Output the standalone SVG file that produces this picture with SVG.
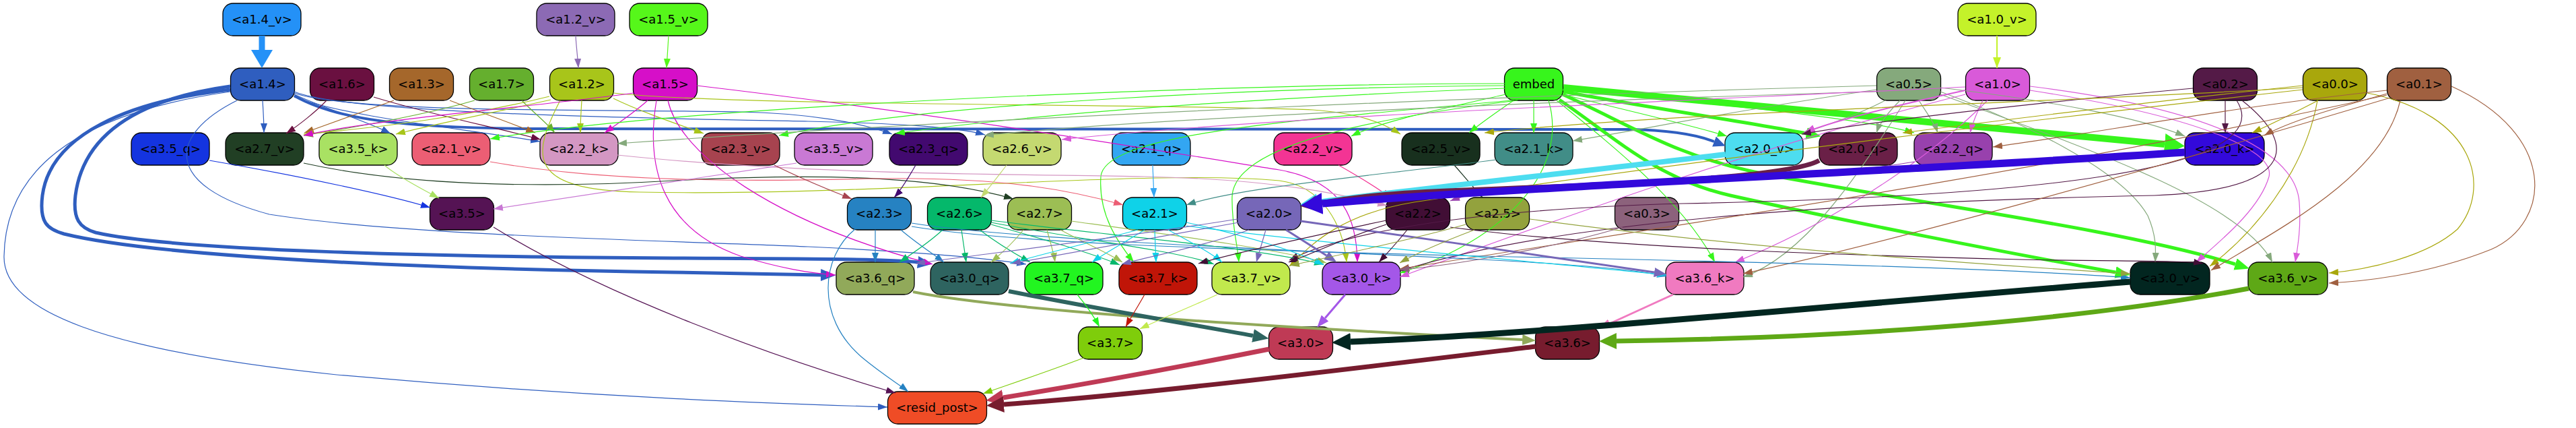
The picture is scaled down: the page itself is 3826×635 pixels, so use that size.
<svg xmlns="http://www.w3.org/2000/svg" width="3826" height="635" viewBox="0 0 3826 635">
<style>
.n rect{stroke:#000;stroke-width:1.3}
.n text{font-family:"DejaVu Sans","Liberation Sans",sans-serif;font-size:18px;text-anchor:middle;fill:#000}
#edges path{fill:none;stroke-width:1.2}
</style>
<defs>
<marker id="t-12v" viewBox="0 0 14 10" refX="14" refY="5" markerWidth="14" markerHeight="10" markerUnits="userSpaceOnUse" orient="auto"><path d="M0,0L14,5L0,10z" fill="#8c6ab4"/></marker>
<marker id="t-15v" viewBox="0 0 14 10" refX="14" refY="5" markerWidth="14" markerHeight="10" markerUnits="userSpaceOnUse" orient="auto"><path d="M0,0L14,5L0,10z" fill="#56f71a"/></marker>
<marker id="t-14" viewBox="0 0 14 10" refX="14" refY="5" markerWidth="14" markerHeight="10" markerUnits="userSpaceOnUse" orient="auto"><path d="M0,0L14,5L0,10z" fill="#2f5ebf"/></marker>
<marker id="t-16" viewBox="0 0 14 10" refX="14" refY="5" markerWidth="14" markerHeight="10" markerUnits="userSpaceOnUse" orient="auto"><path d="M0,0L14,5L0,10z" fill="#6a1040"/></marker>
<marker id="t-13" viewBox="0 0 14 10" refX="14" refY="5" markerWidth="14" markerHeight="10" markerUnits="userSpaceOnUse" orient="auto"><path d="M0,0L14,5L0,10z" fill="#a5672b"/></marker>
<marker id="t-17" viewBox="0 0 14 10" refX="14" refY="5" markerWidth="14" markerHeight="10" markerUnits="userSpaceOnUse" orient="auto"><path d="M0,0L14,5L0,10z" fill="#65af2e"/></marker>
<marker id="t-12" viewBox="0 0 14 10" refX="14" refY="5" markerWidth="14" markerHeight="10" markerUnits="userSpaceOnUse" orient="auto"><path d="M0,0L14,5L0,10z" fill="#a8c51a"/></marker>
<marker id="t-15" viewBox="0 0 14 10" refX="14" refY="5" markerWidth="14" markerHeight="10" markerUnits="userSpaceOnUse" orient="auto"><path d="M0,0L14,5L0,10z" fill="#d60fc8"/></marker>
<marker id="t-emb" viewBox="0 0 14 10" refX="14" refY="5" markerWidth="14" markerHeight="10" markerUnits="userSpaceOnUse" orient="auto"><path d="M0,0L14,5L0,10z" fill="#37f51c"/></marker>
<marker id="t-05" viewBox="0 0 14 10" refX="14" refY="5" markerWidth="14" markerHeight="10" markerUnits="userSpaceOnUse" orient="auto"><path d="M0,0L14,5L0,10z" fill="#85a97c"/></marker>
<marker id="t-10" viewBox="0 0 14 10" refX="14" refY="5" markerWidth="14" markerHeight="10" markerUnits="userSpaceOnUse" orient="auto"><path d="M0,0L14,5L0,10z" fill="#d95ad9"/></marker>
<marker id="t-02" viewBox="0 0 14 10" refX="14" refY="5" markerWidth="14" markerHeight="10" markerUnits="userSpaceOnUse" orient="auto"><path d="M0,0L14,5L0,10z" fill="#541a47"/></marker>
<marker id="t-00" viewBox="0 0 14 10" refX="14" refY="5" markerWidth="14" markerHeight="10" markerUnits="userSpaceOnUse" orient="auto"><path d="M0,0L14,5L0,10z" fill="#a9a70c"/></marker>
<marker id="t-01" viewBox="0 0 14 10" refX="14" refY="5" markerWidth="14" markerHeight="10" markerUnits="userSpaceOnUse" orient="auto"><path d="M0,0L14,5L0,10z" fill="#a06040"/></marker>
<marker id="t-35q" viewBox="0 0 14 10" refX="14" refY="5" markerWidth="14" markerHeight="10" markerUnits="userSpaceOnUse" orient="auto"><path d="M0,0L14,5L0,10z" fill="#1434e0"/></marker>
<marker id="t-27v" viewBox="0 0 14 10" refX="14" refY="5" markerWidth="14" markerHeight="10" markerUnits="userSpaceOnUse" orient="auto"><path d="M0,0L14,5L0,10z" fill="#213f24"/></marker>
<marker id="t-35k" viewBox="0 0 14 10" refX="14" refY="5" markerWidth="14" markerHeight="10" markerUnits="userSpaceOnUse" orient="auto"><path d="M0,0L14,5L0,10z" fill="#a9e163"/></marker>
<marker id="t-21v" viewBox="0 0 14 10" refX="14" refY="5" markerWidth="14" markerHeight="10" markerUnits="userSpaceOnUse" orient="auto"><path d="M0,0L14,5L0,10z" fill="#ec5e74"/></marker>
<marker id="t-22k" viewBox="0 0 14 10" refX="14" refY="5" markerWidth="14" markerHeight="10" markerUnits="userSpaceOnUse" orient="auto"><path d="M0,0L14,5L0,10z" fill="#d497c3"/></marker>
<marker id="t-35v" viewBox="0 0 14 10" refX="14" refY="5" markerWidth="14" markerHeight="10" markerUnits="userSpaceOnUse" orient="auto"><path d="M0,0L14,5L0,10z" fill="#c979d4"/></marker>
<marker id="t-23v" viewBox="0 0 14 10" refX="14" refY="5" markerWidth="14" markerHeight="10" markerUnits="userSpaceOnUse" orient="auto"><path d="M0,0L14,5L0,10z" fill="#a7434f"/></marker>
<marker id="t-23q" viewBox="0 0 14 10" refX="14" refY="5" markerWidth="14" markerHeight="10" markerUnits="userSpaceOnUse" orient="auto"><path d="M0,0L14,5L0,10z" fill="#42096f"/></marker>
<marker id="t-26v" viewBox="0 0 14 10" refX="14" refY="5" markerWidth="14" markerHeight="10" markerUnits="userSpaceOnUse" orient="auto"><path d="M0,0L14,5L0,10z" fill="#c4d971"/></marker>
<marker id="t-21q" viewBox="0 0 14 10" refX="14" refY="5" markerWidth="14" markerHeight="10" markerUnits="userSpaceOnUse" orient="auto"><path d="M0,0L14,5L0,10z" fill="#33a6f2"/></marker>
<marker id="t-22v" viewBox="0 0 14 10" refX="14" refY="5" markerWidth="14" markerHeight="10" markerUnits="userSpaceOnUse" orient="auto"><path d="M0,0L14,5L0,10z" fill="#f33494"/></marker>
<marker id="t-25v" viewBox="0 0 14 10" refX="14" refY="5" markerWidth="14" markerHeight="10" markerUnits="userSpaceOnUse" orient="auto"><path d="M0,0L14,5L0,10z" fill="#18301e"/></marker>
<marker id="t-21k" viewBox="0 0 14 10" refX="14" refY="5" markerWidth="14" markerHeight="10" markerUnits="userSpaceOnUse" orient="auto"><path d="M0,0L14,5L0,10z" fill="#418d87"/></marker>
<marker id="t-22q" viewBox="0 0 14 10" refX="14" refY="5" markerWidth="14" markerHeight="10" markerUnits="userSpaceOnUse" orient="auto"><path d="M0,0L14,5L0,10z" fill="#9841ad"/></marker>
<marker id="t-23" viewBox="0 0 14 10" refX="14" refY="5" markerWidth="14" markerHeight="10" markerUnits="userSpaceOnUse" orient="auto"><path d="M0,0L14,5L0,10z" fill="#2682c2"/></marker>
<marker id="t-26" viewBox="0 0 14 10" refX="14" refY="5" markerWidth="14" markerHeight="10" markerUnits="userSpaceOnUse" orient="auto"><path d="M0,0L14,5L0,10z" fill="#05b86b"/></marker>
<marker id="t-27" viewBox="0 0 14 10" refX="14" refY="5" markerWidth="14" markerHeight="10" markerUnits="userSpaceOnUse" orient="auto"><path d="M0,0L14,5L0,10z" fill="#9cbe54"/></marker>
<marker id="t-21" viewBox="0 0 14 10" refX="14" refY="5" markerWidth="14" markerHeight="10" markerUnits="userSpaceOnUse" orient="auto"><path d="M0,0L14,5L0,10z" fill="#0fd2e8"/></marker>
<marker id="t-20" viewBox="0 0 14 10" refX="14" refY="5" markerWidth="14" markerHeight="10" markerUnits="userSpaceOnUse" orient="auto"><path d="M0,0L14,5L0,10z" fill="#7667b8"/></marker>
<marker id="t-22" viewBox="0 0 14 10" refX="14" refY="5" markerWidth="14" markerHeight="10" markerUnits="userSpaceOnUse" orient="auto"><path d="M0,0L14,5L0,10z" fill="#410e35"/></marker>
<marker id="t-25" viewBox="0 0 14 10" refX="14" refY="5" markerWidth="14" markerHeight="10" markerUnits="userSpaceOnUse" orient="auto"><path d="M0,0L14,5L0,10z" fill="#93a23d"/></marker>
<marker id="t-03" viewBox="0 0 14 10" refX="14" refY="5" markerWidth="14" markerHeight="10" markerUnits="userSpaceOnUse" orient="auto"><path d="M0,0L14,5L0,10z" fill="#8c627c"/></marker>
<marker id="t-37q" viewBox="0 0 14 10" refX="14" refY="5" markerWidth="14" markerHeight="10" markerUnits="userSpaceOnUse" orient="auto"><path d="M0,0L14,5L0,10z" fill="#22f520"/></marker>
<marker id="t-37k" viewBox="0 0 14 10" refX="14" refY="5" markerWidth="14" markerHeight="10" markerUnits="userSpaceOnUse" orient="auto"><path d="M0,0L14,5L0,10z" fill="#c01508"/></marker>
<marker id="t-37v" viewBox="0 0 14 10" refX="14" refY="5" markerWidth="14" markerHeight="10" markerUnits="userSpaceOnUse" orient="auto"><path d="M0,0L14,5L0,10z" fill="#c1e94d"/></marker>
<marker id="t-37" viewBox="0 0 14 10" refX="14" refY="5" markerWidth="14" markerHeight="10" markerUnits="userSpaceOnUse" orient="auto"><path d="M0,0L14,5L0,10z" fill="#7fcd0b"/></marker>
<marker id="t-35" viewBox="0 0 14 10" refX="14" refY="5" markerWidth="14" markerHeight="10" markerUnits="userSpaceOnUse" orient="auto"><path d="M0,0L14,5L0,10z" fill="#551354"/></marker>
<marker id="m-10v" viewBox="0 0 16 12" refX="16" refY="6" markerWidth="16" markerHeight="12" markerUnits="userSpaceOnUse" orient="auto"><path d="M0,0L16,6L0,12z" fill="#c4f22a"/></marker>
<marker id="m-10" viewBox="0 0 16 12" refX="16" refY="6" markerWidth="16" markerHeight="12" markerUnits="userSpaceOnUse" orient="auto"><path d="M0,0L16,6L0,12z" fill="#d95ad9"/></marker>
<marker id="k-14v" viewBox="0 0 27 32" refX="0" refY="16" markerWidth="27" markerHeight="32" markerUnits="userSpaceOnUse" orient="auto"><path d="M0,0L27,16L0,32z" fill="#2491f7"/></marker>
<marker id="k-14a" viewBox="0 0 18 16" refX="0" refY="8" markerWidth="18" markerHeight="16" markerUnits="userSpaceOnUse" orient="auto"><path d="M0,0L18,8L0,16z" fill="#2f5ebf"/></marker>
<marker id="k-14b" viewBox="0 0 22 18" refX="0" refY="9" markerWidth="22" markerHeight="18" markerUnits="userSpaceOnUse" orient="auto"><path d="M0,0L22,9L0,18z" fill="#2f5ebf"/></marker>
<marker id="k-20v" viewBox="0 0 26 26" refX="0" refY="13" markerWidth="26" markerHeight="26" markerUnits="userSpaceOnUse" orient="auto"><path d="M0,0L26,13L0,26z" fill="#4dddf0"/></marker>
<marker id="k-20q" viewBox="0 0 24 24" refX="0" refY="12" markerWidth="24" markerHeight="24" markerUnits="userSpaceOnUse" orient="auto"><path d="M0,0L24,12L0,24z" fill="#6a2047"/></marker>
<marker id="k-20k" viewBox="0 0 32 32" refX="0" refY="16" markerWidth="32" markerHeight="32" markerUnits="userSpaceOnUse" orient="auto"><path d="M0,0L32,16L0,32z" fill="#3309db"/></marker>
<marker id="k-emba" viewBox="0 0 30 32" refX="0" refY="16" markerWidth="30" markerHeight="32" markerUnits="userSpaceOnUse" orient="auto"><path d="M0,0L30,16L0,32z" fill="#37f51c"/></marker>
<marker id="k-embb" viewBox="0 0 22 18" refX="0" refY="9" markerWidth="22" markerHeight="18" markerUnits="userSpaceOnUse" orient="auto"><path d="M0,0L22,9L0,18z" fill="#37f51c"/></marker>
<marker id="k-36q" viewBox="0 0 20 16" refX="0" refY="8" markerWidth="20" markerHeight="16" markerUnits="userSpaceOnUse" orient="auto"><path d="M0,0L20,8L0,16z" fill="#91a95a"/></marker>
<marker id="k-30q" viewBox="0 0 24 20" refX="0" refY="10" markerWidth="24" markerHeight="20" markerUnits="userSpaceOnUse" orient="auto"><path d="M0,0L24,10L0,20z" fill="#2e6460"/></marker>
<marker id="k-30v" viewBox="0 0 28 26" refX="0" refY="13" markerWidth="28" markerHeight="26" markerUnits="userSpaceOnUse" orient="auto"><path d="M0,0L28,13L0,26z" fill="#022620"/></marker>
<marker id="k-36v" viewBox="0 0 26 24" refX="0" refY="12" markerWidth="26" markerHeight="24" markerUnits="userSpaceOnUse" orient="auto"><path d="M0,0L26,12L0,24z" fill="#5ea816"/></marker>
<marker id="k-30" viewBox="0 0 26 24" refX="0" refY="12" markerWidth="26" markerHeight="24" markerUnits="userSpaceOnUse" orient="auto"><path d="M0,0L26,12L0,24z" fill="#bf3a55"/></marker>
<marker id="k-36" viewBox="0 0 26 24" refX="0" refY="12" markerWidth="26" markerHeight="24" markerUnits="userSpaceOnUse" orient="auto"><path d="M0,0L26,12L0,24z" fill="#771c2e"/></marker>
<marker id="k-30k" viewBox="0 0 18 14" refX="0" refY="7" markerWidth="18" markerHeight="14" markerUnits="userSpaceOnUse" orient="auto"><path d="M0,0L18,7L0,14z" fill="#a457e8"/></marker>
<marker id="k-36k" viewBox="0 0 18 14" refX="0" refY="7" markerWidth="18" markerHeight="14" markerUnits="userSpaceOnUse" orient="auto"><path d="M0,0L18,7L0,14z" fill="#f07ac0"/></marker>
<marker id="k-20" viewBox="0 0 18 14" refX="0" refY="7" markerWidth="18" markerHeight="14" markerUnits="userSpaceOnUse" orient="auto"><path d="M0,0L18,7L0,14z" fill="#7667b8"/></marker>
</defs>
<rect width="3826" height="635" fill="#fff"/>

<g id="nodes">
<g id="n-a1_4_v" class="n"><rect x="331" y="5" width="116" height="48" rx="15" fill="#2491f7"/><text x="389" y="35">&lt;a1.4_v&gt;</text></g>
<g id="n-a1_2_v" class="n"><rect x="797" y="5" width="116" height="48" rx="15" fill="#8c6ab4"/><text x="855" y="35">&lt;a1.2_v&gt;</text></g>
<g id="n-a1_5_v" class="n"><rect x="935" y="5" width="116" height="48" rx="15" fill="#56f71a"/><text x="993" y="35">&lt;a1.5_v&gt;</text></g>
<g id="n-a1_0_v" class="n"><rect x="2908" y="5" width="116" height="48" rx="15" fill="#c4f22a"/><text x="2966" y="35">&lt;a1.0_v&gt;</text></g>

<g id="n-a1_4" class="n"><rect x="342.5" y="101" width="95" height="48" rx="15" fill="#2f5ebf"/><text x="390" y="131">&lt;a1.4&gt;</text></g>
<g id="n-a1_6" class="n"><rect x="460.5" y="101" width="95" height="48" rx="15" fill="#6a1040"/><text x="508" y="131">&lt;a1.6&gt;</text></g>
<g id="n-a1_3" class="n"><rect x="578.5" y="101" width="95" height="48" rx="15" fill="#a5672b"/><text x="626" y="131">&lt;a1.3&gt;</text></g>
<g id="n-a1_7" class="n"><rect x="697.5" y="101" width="95" height="48" rx="15" fill="#65af2e"/><text x="745" y="131">&lt;a1.7&gt;</text></g>
<g id="n-a1_2" class="n"><rect x="816.5" y="101" width="95" height="48" rx="15" fill="#a8c51a"/><text x="864" y="131">&lt;a1.2&gt;</text></g>
<g id="n-a1_5" class="n"><rect x="940.5" y="101" width="95" height="48" rx="15" fill="#d60fc8"/><text x="988" y="131">&lt;a1.5&gt;</text></g>
<g id="n-embed" class="n"><rect x="2234.5" y="101" width="87" height="48" rx="15" fill="#37f51c"/><text x="2278" y="131">embed</text></g>
<g id="n-a0_5" class="n"><rect x="2787.5" y="101" width="95" height="48" rx="15" fill="#85a97c"/><text x="2835" y="131">&lt;a0.5&gt;</text></g>
<g id="n-a1_0" class="n"><rect x="2919.5" y="101" width="95" height="48" rx="15" fill="#d95ad9"/><text x="2967" y="131">&lt;a1.0&gt;</text></g>
<g id="n-a0_2" class="n"><rect x="3257.5" y="101" width="95" height="48" rx="15" fill="#541a47"/><text x="3305" y="131">&lt;a0.2&gt;</text></g>
<g id="n-a0_0" class="n"><rect x="3420.5" y="101" width="95" height="48" rx="15" fill="#a9a70c"/><text x="3468" y="131">&lt;a0.0&gt;</text></g>
<g id="n-a0_1" class="n"><rect x="3545.5" y="101" width="95" height="48" rx="15" fill="#a06040"/><text x="3593" y="131">&lt;a0.1&gt;</text></g>

<g id="n-a3_5_q" class="n"><rect x="195" y="197" width="116" height="48" rx="15" fill="#1434e0"/><text x="253" y="227">&lt;a3.5_q&gt;</text></g>
<g id="n-a2_7_v" class="n"><rect x="335" y="197" width="116" height="48" rx="15" fill="#213f24"/><text x="393" y="227">&lt;a2.7_v&gt;</text></g>
<g id="n-a3_5_k" class="n"><rect x="474" y="197" width="116" height="48" rx="15" fill="#a9e163"/><text x="532" y="227">&lt;a3.5_k&gt;</text></g>
<g id="n-a2_1_v" class="n"><rect x="612" y="197" width="116" height="48" rx="15" fill="#ec5e74"/><text x="670" y="227">&lt;a2.1_v&gt;</text></g>
<g id="n-a2_2_k" class="n"><rect x="802" y="197" width="116" height="48" rx="15" fill="#d497c3"/><text x="860" y="227">&lt;a2.2_k&gt;</text></g>
<g id="n-a2_3_v" class="n"><rect x="1042" y="197" width="116" height="48" rx="15" fill="#a7434f"/><text x="1100" y="227">&lt;a2.3_v&gt;</text></g>
<g id="n-a3_5_v" class="n"><rect x="1180" y="197" width="116" height="48" rx="15" fill="#c979d4"/><text x="1238" y="227">&lt;a3.5_v&gt;</text></g>
<g id="n-a2_3_q" class="n"><rect x="1321" y="197" width="116" height="48" rx="15" fill="#42096f"/><text x="1379" y="227">&lt;a2.3_q&gt;</text></g>
<g id="n-a2_6_v" class="n"><rect x="1460" y="197" width="116" height="48" rx="15" fill="#c4d971"/><text x="1518" y="227">&lt;a2.6_v&gt;</text></g>
<g id="n-a2_1_q" class="n"><rect x="1652" y="197" width="116" height="48" rx="15" fill="#33a6f2"/><text x="1710" y="227">&lt;a2.1_q&gt;</text></g>
<g id="n-a2_2_v" class="n"><rect x="1892" y="197" width="116" height="48" rx="15" fill="#f33494"/><text x="1950" y="227">&lt;a2.2_v&gt;</text></g>
<g id="n-a2_5_v" class="n"><rect x="2082" y="197" width="116" height="48" rx="15" fill="#18301e"/><text x="2140" y="227">&lt;a2.5_v&gt;</text></g>
<g id="n-a2_1_k" class="n"><rect x="2220" y="197" width="116" height="48" rx="15" fill="#418d87"/><text x="2278" y="227">&lt;a2.1_k&gt;</text></g>
<g id="n-a2_0_v" class="n"><rect x="2562" y="197" width="116" height="48" rx="15" fill="#4dddf0"/><text x="2620" y="227">&lt;a2.0_v&gt;</text></g>
<g id="n-a2_0_q" class="n"><rect x="2702" y="197" width="116" height="48" rx="15" fill="#6a2047"/><text x="2760" y="227">&lt;a2.0_q&gt;</text></g>
<g id="n-a2_2_q" class="n"><rect x="2843" y="197" width="116" height="48" rx="15" fill="#9841ad"/><text x="2901" y="227">&lt;a2.2_q&gt;</text></g>
<g id="n-a2_0_k" class="n"><rect x="3245" y="197" width="118" height="48" rx="15" fill="#3309db"/><text x="3304" y="227">&lt;a2.0_k&gt;</text></g>

<g id="n-a3_5" class="n"><rect x="638.5" y="293" width="95" height="48" rx="15" fill="#551354"/><text x="686" y="323">&lt;a3.5&gt;</text></g>
<g id="n-a2_3" class="n"><rect x="1258.5" y="293" width="95" height="48" rx="15" fill="#2682c2"/><text x="1306" y="323">&lt;a2.3&gt;</text></g>
<g id="n-a2_6" class="n"><rect x="1377.5" y="293" width="95" height="48" rx="15" fill="#05b86b"/><text x="1425" y="323">&lt;a2.6&gt;</text></g>
<g id="n-a2_7" class="n"><rect x="1496.5" y="293" width="95" height="48" rx="15" fill="#9cbe54"/><text x="1544" y="323">&lt;a2.7&gt;</text></g>
<g id="n-a2_1" class="n"><rect x="1667.5" y="293" width="95" height="48" rx="15" fill="#0fd2e8"/><text x="1715" y="323">&lt;a2.1&gt;</text></g>
<g id="n-a2_0" class="n"><rect x="1837.5" y="293" width="95" height="48" rx="15" fill="#7667b8"/><text x="1885" y="323">&lt;a2.0&gt;</text></g>
<g id="n-a2_2" class="n"><rect x="2058.5" y="293" width="95" height="48" rx="15" fill="#410e35"/><text x="2106" y="323">&lt;a2.2&gt;</text></g>
<g id="n-a2_5" class="n"><rect x="2176.5" y="293" width="95" height="48" rx="15" fill="#93a23d"/><text x="2224" y="323">&lt;a2.5&gt;</text></g>
<g id="n-a0_3" class="n"><rect x="2398.5" y="293" width="95" height="48" rx="15" fill="#8c627c"/><text x="2446" y="323">&lt;a0.3&gt;</text></g>

<g id="n-a3_6_q" class="n"><rect x="1242" y="389" width="116" height="48" rx="15" fill="#91a95a"/><text x="1300" y="419">&lt;a3.6_q&gt;</text></g>
<g id="n-a3_0_q" class="n"><rect x="1382" y="389" width="116" height="48" rx="15" fill="#2e6460"/><text x="1440" y="419">&lt;a3.0_q&gt;</text></g>
<g id="n-a3_7_q" class="n"><rect x="1522" y="389" width="116" height="48" rx="15" fill="#22f520"/><text x="1580" y="419">&lt;a3.7_q&gt;</text></g>
<g id="n-a3_7_k" class="n"><rect x="1662" y="389" width="116" height="48" rx="15" fill="#c01508"/><text x="1720" y="419">&lt;a3.7_k&gt;</text></g>
<g id="n-a3_7_v" class="n"><rect x="1800" y="389" width="116" height="48" rx="15" fill="#c1e94d"/><text x="1858" y="419">&lt;a3.7_v&gt;</text></g>
<g id="n-a3_0_k" class="n"><rect x="1964" y="389" width="116" height="48" rx="15" fill="#a457e8"/><text x="2022" y="419">&lt;a3.0_k&gt;</text></g>
<g id="n-a3_6_k" class="n"><rect x="2474" y="389" width="116" height="48" rx="15" fill="#f07ac0"/><text x="2532" y="419">&lt;a3.6_k&gt;</text></g>
<g id="n-a3_0_v" class="n"><rect x="3164" y="389" width="118" height="48" rx="15" fill="#022620"/><text x="3223" y="419">&lt;a3.0_v&gt;</text></g>
<g id="n-a3_6_v" class="n"><rect x="3339" y="389" width="118" height="48" rx="15" fill="#5ea816"/><text x="3398" y="419">&lt;a3.6_v&gt;</text></g>

<g id="n-a3_7" class="n"><rect x="1601.5" y="485" width="95" height="48" rx="15" fill="#7fcd0b"/><text x="1649" y="515">&lt;a3.7&gt;</text></g>
<g id="n-a3_0" class="n"><rect x="1884.5" y="485" width="95" height="48" rx="15" fill="#bf3a55"/><text x="1932" y="515">&lt;a3.0&gt;</text></g>
<g id="n-a3_6" class="n"><rect x="2280.5" y="485" width="95" height="48" rx="15" fill="#771c2e"/><text x="2328" y="515">&lt;a3.6&gt;</text></g>

<g id="n-resid_post" class="n"><rect x="1318.5" y="581" width="147" height="48" rx="15" fill="#ef4c26"/><text x="1392" y="611">&lt;resid_post&gt;</text></g>
</g>

<g id="edges">
<path d="M389,53 L389,74" stroke="#2491f7" style="stroke-width:9" marker-end="url(#k-14v)"/>
<path d="M855,53 C856,70 858,85 859,101" stroke="#8c6ab4" marker-end="url(#t-12v)"/>
<path d="M993,53 C992,70 991,85 990,101" stroke="#56f71a" marker-end="url(#t-15v)"/>
<path d="M2966,53 L2966,101" stroke="#c4f22a" style="stroke-width:2" marker-end="url(#m-10v)"/>

<path d="M390,149 C391,165 392,180 392,197" stroke="#2f5ebf" marker-end="url(#t-14)"/>
<path d="M437,140 C480,160 545,180 580,198" stroke="#2f5ebf" marker-end="url(#t-14)"/>
<path d="M437,144 C520,175 700,192 802,210" stroke="#2f5ebf" marker-end="url(#t-14)"/>
<path d="M437,138 C520,168 900,162 1100,166 C1200,168 1280,182 1325,199" stroke="#2f5ebf" marker-end="url(#t-14)"/>
<path d="M437,136 C520,170 1000,176 1200,180 C1330,183 1420,188 1463,200" stroke="#2f5ebf" marker-end="url(#t-14)"/>
<path d="M352,149 C250,200 240,275 400,318 C600,350 1000,357 1200,366 C1350,373 1460,382 1524,392" stroke="#2f5ebf" marker-end="url(#t-14)"/>
<path d="M342,136 C100,170 8,260 6,380 C4,460 150,520 500,556 C900,592 1200,600 1318,604" stroke="#2f5ebf" marker-end="url(#t-14)"/>
<path d="M437,142 C500,178 600,190 800,191 L2420,192 C2480,193 2520,200 2546,210" stroke="#2f5ebf" style="stroke-width:4" marker-end="url(#k-14a)"/>
<path d="M342,133 C190,150 75,200 63,290 C58,330 70,340 95,347 C250,385 700,400 1000,404 C1100,406 1180,407 1219,408" stroke="#2f5ebf" style="stroke-width:5" marker-end="url(#k-14b)"/>
<path d="M342,128 C220,145 125,190 112,290 C108,325 118,338 142,345 C260,372 650,381 1000,383 C1200,384 1320,384 1363,389" stroke="#2f5ebf" style="stroke-width:5" marker-end="url(#k-14b)"/>

<path d="M485,149 C470,165 445,185 425,198" stroke="#6a1040" marker-end="url(#t-16)"/>
<path d="M555,144 C640,170 740,190 803,207" stroke="#6a1040" marker-end="url(#t-16)"/>
<path d="M585,149 C535,167 485,185 452,197" stroke="#a5672b" marker-end="url(#t-13)"/>
<path d="M668,149 C715,167 765,185 795,197" stroke="#a5672b" marker-end="url(#t-13)"/>
<path d="M705,149 C625,172 520,190 451,201" stroke="#65af2e" marker-end="url(#t-17)"/>
<path d="M775,149 C790,165 812,182 824,197" stroke="#65af2e" marker-end="url(#t-17)"/>

<path d="M816,143 C700,172 560,190 451,199" stroke="#a8c51a" marker-end="url(#t-12)"/>
<path d="M818,148 C720,170 640,185 588,199" stroke="#a8c51a" marker-end="url(#t-12)"/>
<path d="M864,149 C863,165 862,182 862,197" stroke="#a8c51a" marker-end="url(#t-12)"/>
<path d="M911,146 C950,165 1000,182 1045,198" stroke="#a8c51a" marker-end="url(#t-12)"/>
<path d="M911,138 C1100,158 1700,153 1950,163 C2020,168 2055,183 2080,199" stroke="#a8c51a" marker-end="url(#t-12)"/>
<path d="M832,149 C790,230 780,282 950,285 C1300,292 1700,250 1900,268 C1965,276 1995,335 2000,389" stroke="#a8c51a" marker-end="url(#t-12)"/>

<path d="M962,149 C942,167 918,183 898,197" stroke="#d60fc8" marker-end="url(#t-15)"/>
<path d="M941,138 C800,158 560,176 451,201" stroke="#d60fc8" marker-end="url(#t-15)"/>
<path d="M975,149 C958,250 985,340 1100,380 C1160,398 1200,405 1241,408" stroke="#d60fc8" marker-end="url(#t-15)"/>
<path d="M992,149 C1010,230 1150,330 1385,392" stroke="#d60fc8" marker-end="url(#t-15)"/>
<path d="M1035,127 C1400,170 1700,220 1900,252 C2000,270 2015,330 2016,389" stroke="#d60fc8" marker-end="url(#t-15)"/>

<path d="M2236,140 C2150,160 2050,180 2007,202" stroke="#37f51c" marker-end="url(#t-emb)"/>
<path d="M2248,149 C2225,165 2200,182 2182,197" stroke="#37f51c" marker-end="url(#t-emb)"/>
<path d="M2278,149 L2278,197" stroke="#37f51c" marker-end="url(#t-emb)"/>
<path d="M2321,140 C2420,165 2510,185 2565,202" stroke="#37f51c" marker-end="url(#t-emb)"/>
<path d="M2321,133 C2500,150 2750,172 2843,197" stroke="#37f51c" marker-end="url(#t-emb)"/>
<path d="M2235,127 C1900,130 1400,150 1157,201" stroke="#37f51c" marker-end="url(#t-emb)"/>
<path d="M2235,131 C2000,140 1600,160 1330,198" stroke="#37f51c" marker-end="url(#t-emb)"/>
<path d="M2235,124 C1800,124 1000,158 728,206" stroke="#37f51c" marker-end="url(#t-emb)"/>
<path d="M2246,149 C1900,180 1640,200 1635,262 C1631,320 1662,362 1684,389" stroke="#37f51c" marker-end="url(#t-emb)"/>
<path d="M2254,149 C2000,180 1832,222 1830,292 C1829,332 1838,362 1840,389" stroke="#37f51c" marker-end="url(#t-emb)"/>
<path d="M2300,149 C2330,250 2240,355 2079,405" stroke="#37f51c" marker-end="url(#t-emb)"/>
<path d="M2312,149 C2400,220 2500,300 2547,389" stroke="#37f51c" marker-end="url(#t-emb)"/>
<path d="M2322,130 C2700,165 3000,195 3215,214" stroke="#37f51c" style="stroke-width:10" marker-end="url(#k-emba)"/>
<path d="M2322,136 C2480,165 2600,182 2683,198" stroke="#37f51c" style="stroke-width:5" marker-end="url(#k-embb)"/>
<path d="M2316,148 C2400,205 2460,265 2570,290 C2750,330 2980,375 3142,404" stroke="#37f51c" style="stroke-width:5" marker-end="url(#k-embb)"/>
<path d="M2321,140 C2430,190 2490,232 2620,258 C2850,302 3150,340 3320,392" stroke="#37f51c" style="stroke-width:5" marker-end="url(#k-embb)"/>

<path d="M2787,127 C2300,140 1500,172 917,213" stroke="#85a97c" marker-end="url(#t-05)"/>
<path d="M2787,133 C2600,160 2450,190 2336,209" stroke="#85a97c" marker-end="url(#t-05)"/>
<path d="M2800,149 C2760,170 2712,186 2677,198" stroke="#85a97c" marker-end="url(#t-05)"/>
<path d="M2822,149 C2806,165 2792,182 2787,197" stroke="#85a97c" marker-end="url(#t-05)"/>
<path d="M2850,149 C2860,165 2873,182 2878,197" stroke="#85a97c" marker-end="url(#t-05)"/>
<path d="M2882,130 C3050,150 3180,175 3245,202" stroke="#85a97c" marker-end="url(#t-05)"/>
<path d="M2882,136 C3000,180 3150,250 3190,320 C3203,350 3202,370 3201,389" stroke="#85a97c" marker-end="url(#t-05)"/>
<path d="M2882,140 C3100,220 3330,300 3375,389" stroke="#85a97c" marker-end="url(#t-05)"/>
<path d="M2830,149 C2760,260 2680,380 2589,411" stroke="#85a97c" marker-end="url(#t-05)"/>
<path d="M2787,136 C2300,150 1700,176 1462,201" stroke="#85a97c" marker-end="url(#t-05)"/>

<path d="M2919,134 C2800,160 2720,180 2680,197" stroke="#d95ad9" style="stroke-width:2" marker-end="url(#m-10)"/>
<path d="M2945,149 C2937,165 2930,182 2926,197" stroke="#d95ad9" marker-end="url(#t-10)"/>
<path d="M2919,129 C2500,150 1900,172 1577,207" stroke="#d95ad9" marker-end="url(#t-10)"/>
<path d="M3015,134 C3250,170 3380,220 3370,262 C3356,312 3292,362 3262,389" stroke="#d95ad9" marker-end="url(#t-10)"/>
<path d="M3015,128 C3300,163 3410,230 3415,300 C3418,340 3412,370 3409,389" stroke="#d95ad9" marker-end="url(#t-10)"/>
<path d="M2919,140 C2600,220 2300,330 2079,411" stroke="#d95ad9" marker-end="url(#t-10)"/>
<path d="M2952,149 C2850,250 2700,340 2577,389" stroke="#d95ad9" marker-end="url(#t-10)"/>

<path d="M3305,149 L3305,197" stroke="#541a47" marker-end="url(#t-02)"/>
<path d="M3257,131 C3050,150 2800,177 2676,199" stroke="#541a47" marker-end="url(#t-02)"/>
<path d="M3330,149 C3420,220 3400,282 3200,290 C2700,300 2300,332 2079,402" stroke="#541a47" marker-end="url(#t-02)"/>
<path d="M3322,149 C3390,255 3000,292 2500,302 C2200,310 2000,342 1915,386" stroke="#541a47" marker-end="url(#t-02)"/>

<path d="M3443,149 C3412,165 3372,185 3345,197" stroke="#a9a70c" marker-end="url(#t-00)"/>
<path d="M3420,127 C3200,150 3000,175 2826,197" stroke="#a9a70c" marker-end="url(#t-00)"/>
<path d="M3420,130 C3000,155 2500,165 2205,197" stroke="#a9a70c" marker-end="url(#t-00)"/>
<path d="M3442,149 C3422,260 3342,350 3282,395" stroke="#a9a70c" marker-end="url(#t-00)"/>
<path d="M3516,138 C3680,170 3700,280 3650,340 C3605,380 3520,400 3459,405" stroke="#a9a70c" marker-end="url(#t-00)"/>
<path d="M3420,133 C3000,180 2500,240 2100,300 C1980,320 1940,372 1915,395" stroke="#a9a70c" marker-end="url(#t-00)"/>

<path d="M3545,139 C3470,160 3400,180 3363,201" stroke="#a06040" marker-end="url(#t-01)"/>
<path d="M3545,134 C3300,160 3100,200 2960,218" stroke="#a06040" marker-end="url(#t-01)"/>
<path d="M3641,128 C3800,200 3790,330 3700,370 C3600,410 3500,418 3459,420" stroke="#a06040" marker-end="url(#t-01)"/>
<path d="M3565,149 C3540,262 3380,342 3284,401" stroke="#a06040" marker-end="url(#t-01)"/>
<path d="M3550,145 C3200,250 2800,362 2589,406" stroke="#a06040" marker-end="url(#t-01)"/>
<path d="M3545,141 C3000,262 2500,332 2079,399" stroke="#a06040" marker-end="url(#t-01)"/>

<path d="M311,238 C450,262 580,290 639,308" stroke="#1434e0" marker-end="url(#t-35q)"/>
<path d="M451,242 C600,275 800,280 1000,268 C1250,255 1400,265 1505,295" stroke="#213f24" marker-end="url(#t-27v)"/>
<path d="M571,245 C590,262 630,282 652,294" stroke="#a9e163" marker-end="url(#t-35k)"/>
<path d="M728,240 C900,270 1100,270 1300,265 C1500,262 1600,285 1668,304" stroke="#ec5e74" marker-end="url(#t-21v)"/>
<path d="M917,230 C1200,260 1500,258 1700,262 C1900,266 2000,290 2060,305" stroke="#d497c3" marker-end="url(#t-22k)"/>
<path d="M1183,242 C1000,270 850,292 733,310" stroke="#c979d4" marker-end="url(#t-35v)"/>
<path d="M1150,245 C1200,270 1240,285 1265,295" stroke="#a7434f" marker-end="url(#t-23v)"/>
<path d="M1360,245 C1350,262 1340,280 1328,293" stroke="#42096f" marker-end="url(#t-23q)"/>
<path d="M1495,245 C1482,262 1468,280 1457,293" stroke="#c4d971" marker-end="url(#t-26v)"/>
<path d="M1712,245 L1714,293" stroke="#33a6f2" marker-end="url(#t-21q)"/>
<path d="M1988,245 C2018,262 2048,280 2066,294" stroke="#f33494" marker-end="url(#t-22v)"/>
<path d="M2160,245 C2175,262 2190,280 2202,293" stroke="#18301e" marker-end="url(#t-25v)"/>
<path d="M2222,237 C2050,260 1850,276 1762,304" stroke="#418d87" marker-end="url(#t-21k)"/>
<path d="M2843,240 C2700,265 2400,275 2250,280 C2200,283 2175,290 2154,298" stroke="#9841ad" marker-end="url(#t-22q)"/>
<path d="M2563,229 C2350,255 2100,280 1957,300" stroke="#4dddf0" style="stroke-width:8" marker-end="url(#k-20v)"/>
<path d="M2702,238 C2660,262 2450,272 2150,283 C2050,287 2000,294 1956,302" stroke="#6a2047" style="stroke-width:7" marker-end="url(#k-20q)"/>
<path d="M3245,226 C2800,255 2300,275 1964,302" stroke="#3309db" style="stroke-width:11" marker-end="url(#k-20k)"/>

<path d="M1300,341 L1300,389" stroke="#2682c2" marker-end="url(#t-23)"/>
<path d="M1338,341 C1360,360 1385,376 1402,389" stroke="#2682c2" marker-end="url(#t-23)"/>
<path d="M1270,340 C1220,380 1210,470 1280,530 C1310,555 1335,570 1349,581" stroke="#2682c2" marker-end="url(#t-23)"/>
<path d="M1354,336 C1500,360 1800,370 2200,380 C2700,390 3000,400 3164,412" stroke="#2682c2" marker-end="url(#t-23)"/>
<path d="M1354,331 C1500,355 1900,370 2200,385 C2350,393 2430,400 2475,410" stroke="#2682c2" marker-end="url(#t-23)"/>

<path d="M1400,341 C1380,360 1352,378 1336,389" stroke="#05b86b" marker-end="url(#t-26)"/>
<path d="M1428,341 L1435,389" stroke="#05b86b" marker-end="url(#t-26)"/>
<path d="M1455,341 C1480,360 1510,378 1530,389" stroke="#05b86b" marker-end="url(#t-26)"/>
<path d="M1472,333 C1550,355 1620,375 1663,393" stroke="#05b86b" marker-end="url(#t-26)"/>
<path d="M1472,330 C1600,355 1750,372 1803,392" stroke="#05b86b" marker-end="url(#t-26)"/>
<path d="M1472,327 C1650,350 1850,365 1966,392" stroke="#05b86b" marker-end="url(#t-26)"/>

<path d="M1520,341 C1505,360 1485,378 1472,389" stroke="#9cbe54" marker-end="url(#t-27)"/>
<path d="M1555,341 C1560,360 1565,375 1567,389" stroke="#9cbe54" marker-end="url(#t-27)"/>
<path d="M1575,341 C1610,360 1645,375 1667,389" stroke="#9cbe54" marker-end="url(#t-27)"/>
<path d="M1591,328 C1750,350 1900,370 1970,390" stroke="#9cbe54" marker-end="url(#t-27)"/>

<path d="M1690,341 C1620,360 1550,376 1500,391" stroke="#0fd2e8" marker-end="url(#t-21)"/>
<path d="M1700,341 C1670,360 1640,376 1622,389" stroke="#0fd2e8" marker-end="url(#t-21)"/>
<path d="M1715,341 L1717,389" stroke="#0fd2e8" marker-end="url(#t-21)"/>
<path d="M1735,341 C1770,360 1800,376 1815,389" stroke="#0fd2e8" marker-end="url(#t-21)"/>
<path d="M1762,330 C1850,350 1920,370 1966,393" stroke="#0fd2e8" marker-end="url(#t-21)"/>
<path d="M1762,335 C1950,360 2300,390 2475,408" stroke="#0fd2e8" marker-end="url(#t-21)"/>

<path d="M1840,330 C1700,355 1580,376 1502,391" stroke="#7667b8" marker-end="url(#t-20)"/>
<path d="M1838,325 C1650,355 1450,378 1360,391" stroke="#7667b8" marker-end="url(#t-20)"/>
<path d="M1855,341 C1800,362 1710,380 1666,392" stroke="#7667b8" marker-end="url(#t-20)"/>
<path d="M1880,341 L1866,389" stroke="#7667b8" marker-end="url(#t-20)"/>
<path d="M1910,341 L1970,379" stroke="#7667b8" style="stroke-width:3" marker-end="url(#k-20)"/>
<path d="M1932,328 C2100,352 2300,380 2457,404" stroke="#7667b8" style="stroke-width:3" marker-end="url(#k-20)"/>

<path d="M2090,341 C2075,360 2060,376 2048,389" stroke="#410e35" marker-end="url(#t-22)"/>
<path d="M2059,327 C1950,350 1830,376 1780,391" stroke="#410e35" marker-end="url(#t-22)"/>
<path d="M2059,333 C2000,352 1950,376 1914,389" stroke="#410e35" marker-end="url(#t-22)"/>
<path d="M2154,337 C2400,370 2800,380 3000,385 C3150,388 3240,386 3272,391" stroke="#410e35" marker-end="url(#t-22)"/>

<path d="M2190,341 C2140,360 2100,378 2079,390" stroke="#93a23d" marker-end="url(#t-25)"/>
<path d="M2177,333 C2080,360 1980,380 1916,394" stroke="#93a23d" marker-end="url(#t-25)"/>
<path d="M2272,325 C2600,370 3000,396 3164,406" stroke="#93a23d" marker-end="url(#t-25)"/>
<path d="M2410,337 C2300,370 2150,395 2079,400" stroke="#8c627c" marker-end="url(#t-03)"/>

<path d="M1356,433 C1500,462 1900,485 2180,500 C2220,502 2245,503 2261,504" stroke="#91a95a" style="stroke-width:4" marker-end="url(#k-36q)"/>
<path d="M1498,432 C1650,462 1780,483 1861,498" stroke="#2e6460" style="stroke-width:6" marker-end="url(#k-30q)"/>
<path d="M1600,437 C1615,455 1625,470 1633,485" stroke="#22f520" marker-end="url(#t-37q)"/>
<path d="M1700,437 C1690,455 1680,470 1672,485" stroke="#c01508" marker-end="url(#t-37k)"/>
<path d="M1808,437 C1770,455 1730,470 1693,488" stroke="#c1e94d" marker-end="url(#t-37v)"/>
<path d="M1998,437 L1968,472" stroke="#a457e8" style="stroke-width:3" marker-end="url(#k-30k)"/>
<path d="M2485,437 L2391,480" stroke="#f07ac0" style="stroke-width:3" marker-end="url(#k-36k)"/>
<path d="M3164,418 C2700,455 2300,495 2006,507" stroke="#022620" style="stroke-width:9" marker-end="url(#k-30v)"/>
<path d="M3340,428 C3050,482 2700,502 2401,506" stroke="#5ea816" style="stroke-width:7" marker-end="url(#k-36v)"/>

<path d="M1612,530 C1560,550 1500,570 1460,584" stroke="#7fcd0b" marker-end="url(#t-37)"/>
<path d="M1885,518 C1750,545 1600,572 1490,590" stroke="#bf3a55" style="stroke-width:7" marker-end="url(#k-30)"/>
<path d="M2281,514 C2000,548 1700,585 1491,600" stroke="#771c2e" style="stroke-width:7" marker-end="url(#k-36)"/>
<path d="M733,337 C900,440 1150,530 1330,583" stroke="#551354" marker-end="url(#t-35)"/>
</g>
</svg>
